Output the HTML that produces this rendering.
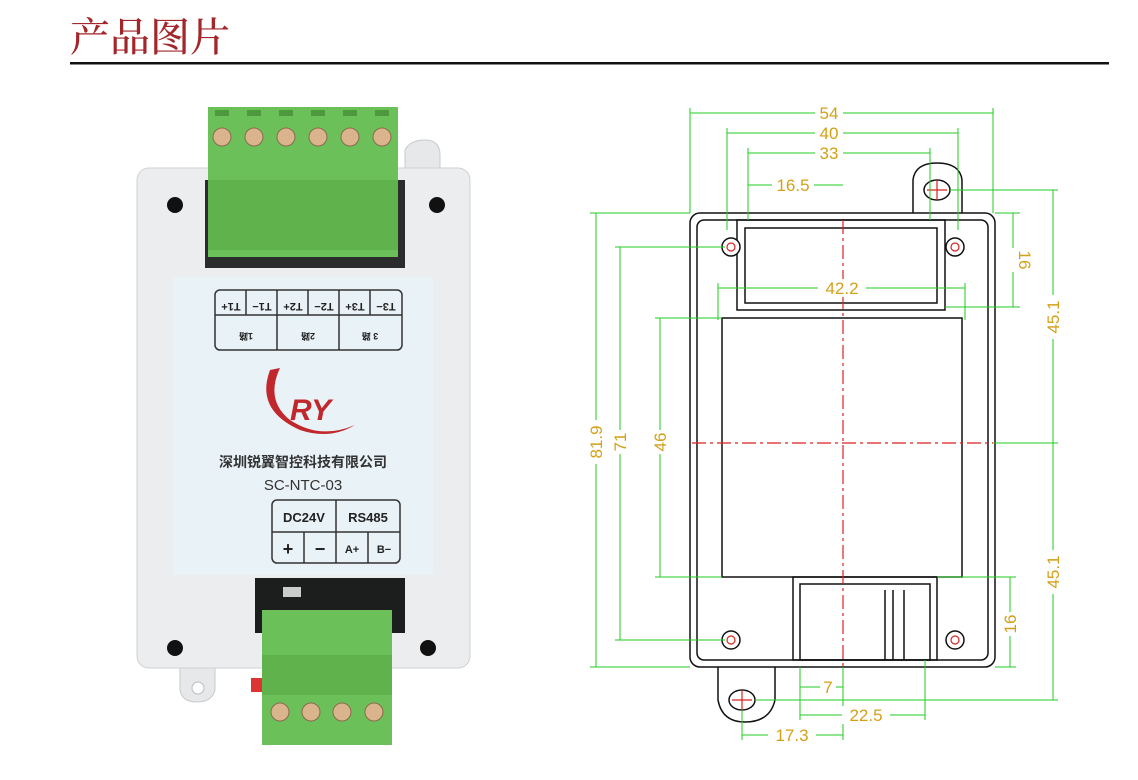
<!DOCTYPE html>
<html><head><meta charset="utf-8"><style>
html,body{margin:0;padding:0;background:#fff;width:1138px;height:780px;overflow:hidden}
</style></head><body>
<svg width="1138" height="780" xmlns="http://www.w3.org/2000/svg" font-family="Liberation Sans, Noto Sans CJK SC, sans-serif">
<text x="70" y="51" font-size="40" fill="#a3262b" font-family="Noto Serif CJK SC, serif" font-weight="500">产品图片</text>
<rect x="70" y="62" width="1039" height="2.5" fill="#111"/>

<!-- device photo -->
<path d="M405 150 Q410 140 425 140 Q440 140 440 155 L440 175 L405 175 Z" fill="#e6e8ea" stroke="#c8cacc"/>
<path d="M180 665 L215 665 L215 690 Q212 702 197 702 Q182 702 180 690 Z" fill="#e6e8ea" stroke="#c8cacc"/>
<circle cx="198" cy="688" r="6" fill="#fff" stroke="#bbb"/>
<rect x="137" y="168" width="333" height="500" rx="12" fill="#ecedee" stroke="#cfd1d3"/>
<rect x="205" y="180" width="200" height="88" fill="#2a2d2c"/>
<rect x="208" y="107" width="190" height="150" fill="#6cc05a"/>
<rect x="208" y="180" width="190" height="70" fill="#5fb24c"/>
<g fill="#4c9a3c">
<rect x="215" y="110" width="14" height="6"/><rect x="247" y="110" width="14" height="6"/><rect x="279" y="110" width="14" height="6"/><rect x="311" y="110" width="14" height="6"/><rect x="343" y="110" width="14" height="6"/><rect x="375" y="110" width="14" height="6"/>
</g>
<g fill="#d9b48c" stroke="#8a6a4a">
<circle cx="222" cy="137" r="9"/><circle cx="254" cy="137" r="9"/><circle cx="286" cy="137" r="9"/><circle cx="318" cy="137" r="9"/><circle cx="350" cy="137" r="9"/><circle cx="382" cy="137" r="9"/>
</g>
<circle cx="175" cy="205" r="8" fill="#111"/><circle cx="437" cy="205" r="8" fill="#111"/>
<circle cx="175" cy="648" r="8" fill="#111"/><circle cx="428" cy="648" r="8" fill="#111"/>
<rect x="173" y="277" width="260" height="298" fill="#e9f2f7"/>
<g fill="none" stroke="#333" stroke-width="1.5">
<rect x="215" y="290" width="187" height="60" rx="5"/>
<line x1="215" y1="315" x2="402" y2="315"/>
<line x1="277" y1="290" x2="277" y2="350"/><line x1="339" y1="290" x2="339" y2="350"/>
<line x1="246" y1="290" x2="246" y2="315"/><line x1="308" y1="290" x2="308" y2="315"/><line x1="370" y1="290" x2="370" y2="315"/>
<rect x="272" y="500" width="128" height="63" rx="5"/>
<line x1="272" y1="532" x2="400" y2="532"/><line x1="336" y1="500" x2="336" y2="563"/>
<line x1="304" y1="532" x2="304" y2="563"/><line x1="368" y1="532" x2="368" y2="563"/>
</g>
<g font-size="11" fill="#222" text-anchor="middle" font-weight="bold">
<text transform="translate(231,303) rotate(180)">T1+</text><text transform="translate(262,303) rotate(180)">T1−</text>
<text transform="translate(293,303) rotate(180)">T2+</text><text transform="translate(324,303) rotate(180)">T2−</text>
<text transform="translate(355,303) rotate(180)">T3+</text><text transform="translate(386,303) rotate(180)">T3−</text>
<text transform="translate(246,333) rotate(180)" font-size="9">1路</text>
<text transform="translate(308,333) rotate(180)" font-size="9">2路</text>
<text transform="translate(370,333) rotate(180)" font-size="9">3 路</text>
</g>
<path d="M270 370 Q255 410 300 430 Q330 440 355 425 Q320 440 290 420 Q265 400 280 368 Z" fill="#c0282c"/>
<text x="290" y="420" font-size="30" font-weight="bold" fill="#c0282c" font-style="italic">RY</text>
<text x="303" y="467" font-size="14" fill="#333" font-weight="bold" text-anchor="middle">深圳锐翼智控科技有限公司</text>
<text x="303" y="490" font-size="15" fill="#333" text-anchor="middle">SC-NTC-03</text>
<g font-size="13" fill="#222" font-weight="bold" text-anchor="middle">
<text x="304" y="522">DC24V</text><text x="368" y="522">RS485</text>
<text x="288" y="555" font-size="18">+</text><text x="320" y="555" font-size="18">−</text>
<text x="352" y="553" font-size="11">A+</text><text x="384" y="553" font-size="11">B−</text>
</g>
<rect x="255" y="578" width="150" height="55" fill="#1c1e1d"/>
<rect x="283" y="587" width="18" height="10" fill="#ccc"/>
<rect x="251" y="678" width="12" height="14" fill="#d33"/>
<rect x="262" y="610" width="130" height="135" fill="#6cc05a"/>
<rect x="262" y="655" width="130" height="40" fill="#5fb24c"/>
<g fill="#d9b48c" stroke="#8a6a4a">
<circle cx="280" cy="712" r="9"/><circle cx="311" cy="712" r="9"/><circle cx="342" cy="712" r="9"/><circle cx="374" cy="712" r="9"/>
</g>

<!-- drawing -->
<g fill="none" stroke="#111" stroke-width="1.5">
<path d="M913 213 L913 180 Q915 163 937 163 Q960 163 962 180 L962 213"/>
<path d="M718 667 L718 700 Q722 722 745 722 Q770 722 775 700 L775 667"/>
<rect x="690" y="213" width="305" height="454" rx="10"/>
<rect x="697" y="220" width="291" height="440" rx="7"/>
<rect x="737" y="220" width="208" height="90" />
<rect x="745" y="228" width="192" height="75"/>
<rect x="722" y="318" width="240" height="259"/>
<rect x="793" y="577" width="144" height="83"/>
<rect x="800" y="584" width="130" height="76"/>
<line x1="885" y1="590" x2="885" y2="660"/><line x1="893" y1="590" x2="893" y2="660"/><line x1="904" y1="590" x2="904" y2="660"/>
</g>
<g fill="#fff" stroke="#111" stroke-width="1.5">
<circle cx="731" cy="247" r="9"/><circle cx="955" cy="247" r="9"/><circle cx="731" cy="640" r="9"/><circle cx="955" cy="640" r="9"/>
<ellipse cx="937" cy="190" rx="13" ry="10"/><ellipse cx="742" cy="700" rx="13" ry="10"/>
</g>
<g stroke="#d22" stroke-width="1.2" fill="none">
<circle cx="731" cy="247" r="4"/><circle cx="955" cy="247" r="4"/><circle cx="731" cy="640" r="4"/><circle cx="955" cy="640" r="4"/>
<path d="M937 180v20M927 190h20M742 690v20M732 700h20"/>
<line x1="843" y1="220" x2="843" y2="667" stroke-dasharray="14,4,3,4"/>
<line x1="692" y1="443" x2="993" y2="443" stroke-dasharray="14,4,3,4"/>
</g>
<g stroke="#22cc22" stroke-width="1" fill="none">
<line x1="690" y1="113" x2="993" y2="113"/><line x1="690" y1="108" x2="690" y2="213"/><line x1="993" y1="108" x2="993" y2="213"/>
<line x1="727" y1="133" x2="958" y2="133"/><line x1="727" y1="128" x2="727" y2="230"/><line x1="958" y1="128" x2="958" y2="230"/>
<line x1="748" y1="153" x2="930" y2="153"/><line x1="748" y1="148" x2="748" y2="220"/><line x1="930" y1="148" x2="930" y2="220"/>
<line x1="748" y1="185" x2="843" y2="185"/>
<line x1="718" y1="288" x2="965" y2="288"/><line x1="718" y1="283" x2="718" y2="320"/><line x1="965" y1="283" x2="965" y2="320"/>
<line x1="596" y1="213" x2="596" y2="667"/><line x1="590" y1="213" x2="690" y2="213"/><line x1="590" y1="667" x2="690" y2="667"/>
<line x1="620" y1="247" x2="620" y2="640"/><line x1="615" y1="247" x2="725" y2="247"/><line x1="615" y1="640" x2="725" y2="640"/>
<line x1="660" y1="318" x2="660" y2="577"/><line x1="655" y1="318" x2="722" y2="318"/><line x1="655" y1="577" x2="722" y2="577"/>
<line x1="1013" y1="213" x2="1013" y2="307"/><line x1="995" y1="213" x2="1020" y2="213"/><line x1="945" y1="307" x2="1020" y2="307"/>
<line x1="1053" y1="190" x2="1053" y2="700"/><line x1="950" y1="190" x2="1058" y2="190"/><line x1="993" y1="443" x2="1058" y2="443"/><line x1="755" y1="700" x2="1058" y2="700"/>
<line x1="1010" y1="577" x2="1010" y2="667"/><line x1="937" y1="577" x2="1016" y2="577"/><line x1="995" y1="667" x2="1016" y2="667"/>
<line x1="800" y1="687" x2="843" y2="687"/><line x1="800" y1="667" x2="800" y2="720"/>
<line x1="800" y1="715" x2="925" y2="715"/><line x1="925" y1="660" x2="925" y2="720"/>
<line x1="742" y1="735" x2="843" y2="735"/><line x1="742" y1="710" x2="742" y2="740"/><line x1="843" y1="667" x2="843" y2="740"/>
</g>
<g fill="#d4a017" font-size="17" text-anchor="middle">
<rect x="815" y="103" width="28" height="18" fill="#fff"/><text x="829" y="119">54</text>
<rect x="815" y="124" width="28" height="18" fill="#fff"/><text x="829" y="139">40</text>
<rect x="815" y="144" width="28" height="18" fill="#fff"/><text x="829" y="159">33</text>
<rect x="772" y="176" width="42" height="18" fill="#fff"/><text x="793" y="191">16.5</text>
<rect x="818" y="279" width="48" height="18" fill="#fff"/><text x="842" y="294">42.2</text>
<rect x="820" y="678" width="16" height="18" fill="#fff"/><text x="828" y="693">7</text>
<rect x="842" y="706" width="48" height="18" fill="#fff"/><text x="866" y="721">22.5</text>
<rect x="768" y="726" width="48" height="18" fill="#fff"/><text x="792" y="741">17.3</text>
<rect x="587" y="420" width="18" height="44" fill="#fff"/><text transform="translate(602,442) rotate(-90)">81.9</text>
<rect x="611" y="430" width="18" height="24" fill="#fff"/><text transform="translate(626,442) rotate(-90)">71</text>
<rect x="651" y="430" width="18" height="24" fill="#fff"/><text transform="translate(666,442) rotate(-90)">46</text>
<rect x="1004" y="248" width="18" height="24" fill="#fff"/><text transform="translate(1019,260) rotate(90)">16</text>
<rect x="1044" y="295" width="18" height="44" fill="#fff"/><text transform="translate(1047,317) rotate(-90)" dy="12">45.1</text>
<rect x="1044" y="550" width="18" height="44" fill="#fff"/><text transform="translate(1047,572) rotate(-90)" dy="12">45.1</text>
<rect x="1001" y="612" width="18" height="24" fill="#fff"/><text transform="translate(1016,624) rotate(-90)">16</text>
</g>
</svg>
</body></html>
